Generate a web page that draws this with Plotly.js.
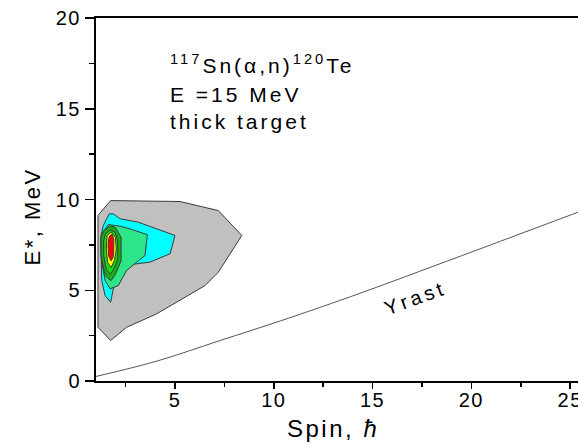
<!DOCTYPE html>
<html>
<head>
<meta charset="utf-8">
<script src="https://cdn.plot.ly/plotly-3.0.1.min.js"></script>
<style>
html,body{margin:0;padding:0;overflow:hidden;background:#fff;}
#chart{width:600px;height:445px;}
.xtick text, .ytick text{letter-spacing:1.5px;}
</style>
</head>
<body>
<div id="chart"></div>
<script>
// Contour level polygons (Spin, E*)
const greyX   = [1.74, 5.25, 7.19, 8.38, 7.19, 6.52, 4.07, 2.55, 1.74, 1.10, 1.10, 1.74];
const greyY   = [9.94, 9.89, 9.39, 8.02, 5.99, 5.26, 3.70, 2.96, 2.23, 2.96, 9.12, 9.94];
const cyanX   = [1.67, 1.88, 2.22, 3.14, 5.00, 4.75, 3.73, 2.38, 1.96, 1.74, 1.46, 1.29, 1.24, 1.37, 1.67];
const cyanY   = [9.21, 9.21, 8.94, 8.75, 8.02, 7.01, 6.55, 6.36, 5.54, 4.34, 4.71, 5.54, 7.92, 8.57, 9.21];
const mintX   = [1.35, 1.62, 2.22, 2.81, 3.60, 3.48, 3.06, 2.55, 2.13, 1.71, 1.46, 1.29, 1.25, 1.35];
const mintY   = [8.18, 8.62, 8.53, 8.35, 8.06, 6.91, 6.55, 6.09, 5.26, 5.08, 5.54, 6.55, 7.74, 8.18];
const dgreenX = [1.39, 1.69, 1.98, 2.27, 2.27, 1.98, 1.76, 1.47, 1.25, 1.25, 1.39];
const dgreenY = [8.28, 8.55, 8.46, 7.91, 6.62, 5.88, 5.52, 5.80, 6.90, 7.91, 8.28];
const limeX   = [1.47, 1.72, 1.98, 2.10, 2.10, 1.90, 1.72, 1.52, 1.39, 1.39, 1.47];
const limeY   = [8.09, 8.33, 8.18, 7.72, 6.71, 6.16, 5.88, 6.16, 6.90, 7.72, 8.09];
const yellowX = [1.56, 1.76, 1.98, 2.03, 1.93, 1.76, 1.59, 1.52, 1.56];
const yellowY = [8.00, 8.22, 7.91, 7.26, 6.62, 6.25, 6.53, 7.26, 8.00];
const redX    = [1.69, 1.81, 1.90, 1.90, 1.86, 1.76, 1.64, 1.61, 1.64, 1.69];
const redY    = [8.00, 8.09, 7.81, 7.17, 6.80, 6.62, 6.90, 7.45, 7.81, 8.00];

// Yrast line
const yrastX = [1.0, 4.09, 7.28, 10.33, 13.87, 19.5, 25.35, 26.41];
const yrastY = [0.25, 1.1, 2.23, 3.31, 4.64, 6.9, 9.28, 9.71];

// Axis ticks
const xTicks = [5, 10, 15, 20, 25];
const yTicks = [0, 5, 10, 15, 20];

const edge = '#3a3a3a';
function poly(x, y, color) {
  return {x: x, y: y, type: 'scatter', mode: 'lines', fill: 'toself',
          fillcolor: color, line: {color: edge, width: 1}, hoverinfo: 'skip', showlegend: false};
}
const traces = [
  poly(greyX, greyY, '#c0c0c0'),
  poly(cyanX, cyanY, '#00ffff'),
  poly(mintX, mintY, '#2ee68a'),
  poly(dgreenX, dgreenY, '#1aab1a'),
  poly(limeX, limeY, '#14dc14'),
  poly(yellowX, yellowY, '#ffff00'),
  poly(redX, redY, '#ff0000'),
  {x: yrastX, y: yrastY, type: 'scatter', mode: 'lines', line: {color: '#555', width: 1, shape: 'spline'},
   hoverinfo: 'skip', showlegend: false}
];

const font = 'Arial, "Liberation Sans", sans-serif';
function sp(t, s) { return '<span style="letter-spacing:' + s + 'px">' + t + '</span>'; }
const layout = {
  width: 600, height: 445,
  margin: {l: 96, r: 2, t: 18, b: 64},
  paper_bgcolor: '#fff', plot_bgcolor: '#fff',
  font: {family: font, color: '#000'},
  showlegend: false,
  xaxis: {
    range: [1, 26.41], showgrid: false, zeroline: false,
    showline: true, linecolor: '#000', linewidth: 2, mirror: true,
    ticks: 'outside', ticklen: 6, tickwidth: 1.5, tickcolor: '#000',
    tickvals: xTicks, ticktext: xTicks.map(String),
    tickfont: {size: 20, family: font}, ticklabelstandoff: -6,
    minor: {dtick: 2.5, ticks: 'outside', ticklen: 4, tickwidth: 1.5, tickcolor: '#000', showgrid: false}
  },
  yaxis: {
    range: [0, 20], showgrid: false, zeroline: false,
    showline: true, linecolor: '#000', linewidth: 2, mirror: true,
    ticks: 'outside', ticklen: 9, tickwidth: 1.5, tickcolor: '#000',
    tickvals: yTicks, ticktext: yTicks.map(String),
    tickfont: {size: 20, family: font},
    minor: {dtick: 2.5, ticks: 'outside', ticklen: 5, tickwidth: 1.5, tickcolor: '#000', showgrid: false}
  },
  annotations: [
    // axis titles
    {x: 0.472, y: -0.1295, xref: 'paper', yref: 'paper', xanchor: 'center', yanchor: 'middle', showarrow: false,
     text: sp('Spin, <i>ħ</i>', 2.5), font: {size: 24, family: font}},
    {x: -0.1267, y: 0.4545, xref: 'paper', yref: 'paper', xanchor: 'center', yanchor: 'middle', showarrow: false,
     textangle: -90, text: sp('E*, MeV', 2.5), font: {size: 22, family: font}},
    // info text
    {x: 4.63, y: 17.45, xref: 'x', yref: 'y', xanchor: 'left', yanchor: 'middle', showarrow: false,
     text: sp('<sup>117</sup>Sn(α,n)<sup>120</sup>Te', 3), font: {size: 21, family: font}},
    {x: 4.63, y: 15.76, xref: 'x', yref: 'y', xanchor: 'left', yanchor: 'middle', showarrow: false,
     text: sp('E =15 MeV', 3), font: {size: 21, family: font}},
    {x: 4.63, y: 14.31, xref: 'x', yref: 'y', xanchor: 'left', yanchor: 'middle', showarrow: false,
     text: sp('thick target', 3), font: {size: 21, family: font}},
    {x: 17.15, y: 4.6, xref: 'x', yref: 'y', showarrow: false, textangle: -20,
     text: sp('Yrast', 3.5), font: {size: 20, family: font}}
  ]
};
Plotly.newPlot('chart', traces, layout, {staticPlot: true, displayModeBar: false});
</script>
</body>
</html>
